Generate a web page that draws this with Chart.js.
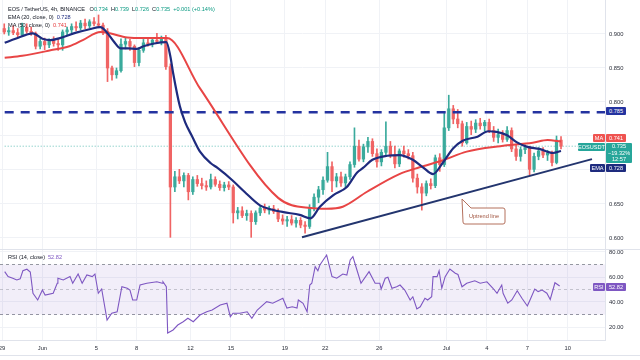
<!DOCTYPE html>
<html>
<head>
<meta charset="utf-8">
<script src="https://cdn.jsdelivr.net/npm/chart.js@4.4.0/dist/chart.umd.min.js"></script>
<style>
  body { margin: 0; background: #fff; font-family: "Liberation Sans", Arial, sans-serif; }
  #wrap { position: relative; width: 640px; height: 360px; overflow: hidden; background: #fff; }
  canvas { position: absolute; left: 0; }
  #price { top: 0; }
  #rsi { top: 250px; }
  .lg { position: absolute; font-size: 5.6px; line-height: 8px; color: #131722; white-space: nowrap; }
  .lg span { margin-left: 3px; }
  .v { color: #089981; }
  .tag { position: absolute; height: 8px; line-height: 8px; font-size: 5.6px; color: #fff; text-align: center; border-radius: 1px; white-space: nowrap; }
  .sep { position: absolute; left: 0; width: 640px; height: 1px; background: #e0e3eb; }
</style>
</head>
<body>
<div id="wrap">
  <canvas id="price" width="640" height="250"></canvas>
  <canvas id="rsi" width="640" height="106"></canvas>
  <div class="sep" style="top:249px"></div>
  <div class="sep" style="top:355px"></div>

  <!-- legend -->
  <div class="lg" style="left:8px;top:5px">EOS / TetherUS, 4h, BINANCE
    <span>O<b class="v" style="font-weight:normal">0.734</b></span><span>H<b class="v" style="font-weight:normal">0.739</b></span><span>L<b class="v" style="font-weight:normal">0.726</b></span><span>C<b class="v" style="font-weight:normal">0.735</b></span><span class="v">+0.001 (+0.14%)</span></div>
  <div class="lg" style="left:8px;top:13px">EMA (20, close, 0)<span style="color:#1e2b7e">0.728</span></div>
  <div class="lg" style="left:8px;top:21px">MA (50, close, 0)<span style="color:#e5393b">0.741</span></div>
  <div class="lg" style="left:8px;top:253px">RSI (14, close)<span style="color:#7e57c2">52.82</span></div>

  <!-- price tags -->
  <div class="tag" style="left:606px;top:107px;width:20px;background:#2433a0">0.785</div>
  <div class="tag" style="left:593px;top:134px;width:12px;background:#ef5350">MA</div>
  <div class="tag" style="left:606px;top:134px;width:20px;background:#ef5350">0.741</div>
  <div class="tag" style="left:578px;top:143px;width:27px;background:#26a69a">EOSUSDT</div>
  <div class="tag" style="left:606px;top:143px;width:26px;height:20px;line-height:6.7px;background:#26a69a">0.735<br>−19.32%<br>12:57</div>
  <div class="tag" style="left:590px;top:164px;width:15px;background:#1e2b7e">EMA</div>
  <div class="tag" style="left:606px;top:164px;width:20px;background:#1e2b7e">0.728</div>
  <div class="tag" style="left:593px;top:283px;width:12px;background:#7e57c2">RSI</div>
  <div class="tag" style="left:606px;top:283px;width:20px;background:#7e57c2">52.82</div>

  <!-- callout -->
  <svg style="position:absolute;left:0;top:0" width="640" height="360">
    <path d="M462 199 L471 208 L503 208 Q505 208 505 210 L505 222 Q505 224 503 224 L465 224 Q463 224 463 222 Z" fill="#fff" stroke="#b4705d" stroke-width="1"/>
  </svg>
  <div class="lg" style="left:463px;top:212px;width:42px;text-align:center;color:#a0533e">Uptrend line</div>
</div>

<script>
// 8h candles, index 0 = May 29 00:00
const opens = [.908,.903,.905,.902,.899,.910,.904,.901,.882,.889, .884,.890,.886,.884,.903,.906,.911,.909,.916,.912,
  .918,.915,.913,.904,.850,.840,.846,.885,.889,.882, .858,.876,.887,.885,.891,.889,.892,.852,.675,.690,
  .684,.692,.668,.686,.680,.677,.675,.686,.679,.674, .678,.675,.637,.640,.633,.636,.624,.637,.644,.641,
  .643,.639,.628,.625,.627,.622,.626,.619,.617,.645, .660,.671,.685,.705,.684,.690,.681,.690,.708,.735,
  .716,.734,.742,.724,.712,.726,.735,.722,.709,.728, .724,.721,.688,.675,.666,.680,.677,.718,.708,.762,
  .790,.775,.768,.740,.764,.760,.769,.765,.770,.758, .748,.752,.745,.758,.731,.720,.730,.733,.701,.720,
  .728,.722,.725,.711,.744];
const highs = [.915,.910,.912,.908,.916,.915,.910,.903,.893,.894, .893,.896,.892,.906,.910,.915,.918,.920,.922,.921,
  .924,.928,.916,.908,.853,.850,.893,.895,.892,.884, .880,.892,.893,.895,.901,.897,.898,.856,.698,.701,
  .696,.695,.690,.692,.688,.684,.694,.690,.684,.682, .683,.678,.645,.646,.641,.640,.640,.648,.650,.647,
  .648,.643,.634,.632,.633,.630,.630,.624,.649,.665, .676,.690,.726,.712,.695,.697,.694,.712,.762,.744,
  .738,.748,.746,.731,.730,.771,.742,.735,.731,.735, .730,.726,.694,.680,.684,.687,.722,.724,.784,.810,
  .795,.789,.772,.770,.772,.774,.776,.773,.775,.764, .760,.758,.764,.762,.738,.734,.737,.735,.725,.733,
  .733,.729,.728,.750,.749];
const lows = [.900,.898,.899,.896,.897,.901,.898,.878,.878,.877, .880,.882,.876,.876,.898,.902,.905,.906,.908,.909,
  .912,.910,.899,.830,.832,.835,.844,.878,.876,.852, .853,.873,.882,.881,.886,.884,.848,.601,.668,.680,
  .675,.656,.664,.676,.672,.670,.672,.676,.670,.669, .671,.622,.628,.630,.626,.601,.620,.633,.637,.635,
  .636,.624,.620,.617,.619,.616,.615,.607,.614,.640, .652,.664,.682,.668,.675,.676,.675,.686,.704,.713,
  .712,.726,.720,.704,.706,.720,.718,.703,.705,.719, .716,.682,.666,.641,.662,.672,.674,.698,.705,.758,
  .768,.762,.735,.738,.752,.755,.760,.757,.755,.742, .740,.741,.742,.727,.714,.713,.724,.693,.697,.715,
  .718,.714,.706,.709,.731];
const closes = [.903,.905,.902,.899,.910,.904,.901,.882,.889,.884, .890,.886,.884,.903,.906,.911,.909,.916,.912,.918,
  .915,.913,.904,.850,.840,.846,.885,.889,.882,.858, .876,.887,.885,.891,.889,.892,.852,.675,.690,.684,
  .692,.668,.686,.680,.677,.675,.686,.679,.674,.678, .675,.637,.640,.633,.636,.624,.637,.644,.641,.643,
  .639,.628,.625,.627,.622,.626,.619,.617,.645,.660, .671,.685,.705,.684,.690,.681,.690,.708,.735,.716,
  .734,.742,.724,.712,.726,.735,.722,.709,.728,.724, .721,.688,.675,.666,.680,.677,.718,.708,.762,.790,
  .775,.768,.740,.764,.760,.769,.765,.770,.758,.748, .752,.745,.758,.731,.720,.730,.733,.701,.720,.728,
  .722,.725,.711,.744,.735];

// indicator lines (x in days since May 29)
const emaDays = [0.2,1.0,2.3,3.0,3.6,4.3,5.5,6.5,7.3,7.8, 8.3,8.8,9.4,10.0,10.5,11.3,12.2,12.5,12.7,13.2,
  13.6,14.1,14.7,15.5,16.0,17.1,18.0,19.15,20.0,20.9, 22.1,22.9,23.6,24.6,25.6,26.35,26.8,27.5,28.6,29.5,
  30.5,31.25,32.0,32.7,33.5,34.2,35.3,36.1,36.7,37.5, 38.2,39.0,39.9,40.9,41.5];
const emaVals = [.887,.893,.901,.893,.891,.894,.902,.907,.910,.902, .889,.879,.879,.878,.882,.886,.888,.867,.843,.794,
  .770,.750,.727,.710,.703,.685,.668,.648,.642,.638, .634,.629,.646,.663,.675,.696,.703,.715,.721,.722,
  .715,.704,.694,.710,.732,.743,.749,.757,.756,.751, .741,.734,.731,.725,.728];
const maDays = [0.2,1.5,3.6,5.0,6.0,7.3,8.0,9.3,10.5,12.25,14.7,20.5,22.9,24.1,25.3,27.1,29.5,31.0,32.7,34.5,37.0,39.4,40.5,41.5];
const maVals = [.865,.868,.876,.882,.891,.903,.901,.895,.894,.894,.820,.659,.644,.643,.646,.668,.694,.704,.714,.727,.735,.740,.744,.742];

const resistance = 0.785;
const lastPrice = 0.735;
const trendDays = [22.27, 43.8];
const trendVals = [0.601, 0.716];

const rsiDays = [0.2,0.45,0.8,1.1,1.35,1.55,1.85,2.1,2.3,2.65, 3.0,3.2,3.8,4.1,4.15,4.55,5.05,5.25,5.65,5.95,
  6.3,6.7,6.9,7.15,7.4,7.8,8.15,8.55,8.9,9.3, 9.5,9.7,10.0,10.25,10.75,11.5,11.9,11.95,12.2,12.3,
  12.7,13.05,13.45,13.8,14.2,14.7,15.2,15.6,16.2,16.7, 16.95,17.15,17.65,18.2,18.55,18.95,19.65,20.1,20.85,21.15,
  21.55,21.9,22.0,22.35,22.65,22.85,23.0,23.25,23.45,23.6, 24.1,24.5,24.85,25.3,25.6,25.85,26.05,26.35,26.65,27.25,
  27.7,28.05,28.15,28.45,28.65,28.95,29.3,29.55,29.9,30.3, 30.5,30.8,31.05,31.4,31.6,31.9,32.0,32.3,32.45,32.65,
  32.9,33.25,33.65,33.85,34.15,34.5,35.1,35.5,36.0,36.45, 36.75,37.1,37.2,37.55,37.85,38.25,38.6,39.0,39.2,39.55,
  39.8,40.1,40.45,40.7,41.05,41.4];
const rsiVals = [64.3,60.3,59,57.6,58.5,65,66.2,64,47,41.6, 49.6,45.6,47,55,59,57.6,60.3,55,62.4,55,
  61.6,60.3,62.4,47,50.4,25.6,31,32.2,52.2,51, 49.6,41.6,41.6,53.6,55,56.2,55,56.2,52.2,15.2,
  17.6,21.6,24.2,27,24.2,29.6,32.2,33.6,37.6,39, 28.2,31,31,32.2,27,33.6,40.3,39,43,35.2,
  36.2,35.2,41.6,39,32.2,53.6,55,68.3,65,69.6, 77.6,60.3,59,62.4,61.6,73.6,76.3,65.6,55,64.3,
  55,55,50.4,59,59.8,51,52.2,53.6,49.6,41.6, 44.2,34.4,36.2,43,41.6,44.2,60.3,60.3,65,51,
  60.3,66.4,63,62,52.2,55,57,55,56.2,51, 47,53.6,47,39,41.6,49,43,36.8,41.6,50.4,
  48.3,49.6,47,42,55.4,52.8];

const tickDays = [0, 3, 7, 10, 14, 17, 21, 24, 28, 33, 36, 39, 42];
const tickLabels = ['29', 'Jun', '5', '8', '12', '15', '19', '22', '26', 'Jul', '4', '7', '10'];
const priceTicks = [0.6, 0.65, 0.7, 0.75, 0.8, 0.85, 0.9];
const rsiTicks = [20, 40, 60, 80];

const X_MIN = -0.1485, X_MAX = 44.766;
const UP = '#3aaa9c', DOWN = '#f06464';
const GRID = '#f0f2f6';

Chart.defaults.font.family = '"Liberation Sans", Arial, sans-serif';
Chart.defaults.font.size = 5.8;
Chart.defaults.color = '#2a2e39';

const pts = (xs, ys) => xs.map((x, i) => ({ x: x, y: ys[i] }));
const candleX = i => i / 3 + 1 / 6;
const candleColors = closes.map((c, i) => c >= opens[i] ? UP : DOWN);

function xScale(showLabels) {
  return {
    type: 'linear', min: X_MIN, max: X_MAX, offset: false,
    afterBuildTicks: s => { s.ticks = tickDays.map(v => ({ value: v })); },
    afterFit: s => { s.paddingLeft = 0; s.paddingRight = 0; s.height = showLabels ? 16 : 0; },
    grid: { color: GRID, drawTicks: false, offset: false },
    border: { display: showLabels, color: '#e0e3eb' },
    ticks: {
      display: showLabels, autoSkip: false, maxRotation: 0, padding: 5,
      callback: (v, i) => tickLabels[i]
    }
  };
}

new Chart(document.getElementById('price'), {
  type: 'bar',
  data: {
    datasets: [
      { type: 'line', data: pts(emaDays, emaVals), borderColor: '#1e2b7e', borderWidth: 2.2,
        pointRadius: 0, cubicInterpolationMode: 'monotone', order: 1 },
      { type: 'line', data: pts(maDays, maVals), borderColor: '#e84545', borderWidth: 2,
        pointRadius: 0, cubicInterpolationMode: 'monotone', order: 2 },
      { type: 'line', data: pts([0.2, X_MAX], [resistance, resistance]), borderColor: '#2433a0',
        borderWidth: 2.5, borderDash: [9, 7], pointRadius: 0, order: 3 },
      { type: 'line', data: pts(trendDays, trendVals), borderColor: '#23356e', borderWidth: 2,
        pointRadius: 0, order: 4 },
      { type: 'bar', data: closes.map((c, i) => ({ x: candleX(i), y: [opens[i], c] })),
        backgroundColor: candleColors, barThickness: 2.6, barPercentage: 1, minBarLength: 1,
        grouped: false, order: 5 },
      { type: 'bar', data: closes.map((c, i) => ({ x: candleX(i), y: [lows[i], highs[i]] })),
        backgroundColor: candleColors, barThickness: 1, barPercentage: 1,
        grouped: false, order: 6 },
      { type: 'line', data: pts([0.2, X_MAX], [lastPrice, lastPrice]), borderColor: 'rgba(38,166,154,0.7)',
        borderWidth: 1, borderDash: [1, 2], pointRadius: 0, order: 7 }
    ]
  },
  options: {
    responsive: false, animation: false, events: [],
    layout: { padding: 0 },
    plugins: { legend: { display: false }, tooltip: { enabled: false } },
    scales: {
      x: xScale(false),
      y: {
        type: 'linear', position: 'right', min: 0.58235, max: 0.95,
        afterBuildTicks: s => { s.ticks = priceTicks.map(v => ({ value: v })); },
        afterFit: s => { s.width = 35; s.paddingTop = 0; s.paddingBottom = 0; },
        grid: { color: GRID, drawTicks: false },
        border: { color: '#e0e3eb' },
        ticks: { padding: 4, callback: v => v.toFixed(3) }
      }
    }
  }
});

new Chart(document.getElementById('rsi'), {
  type: 'line',
  data: {
    datasets: [
      { data: pts(rsiDays, rsiVals), borderColor: '#7e57c2', borderWidth: 1.1, pointRadius: 0, order: 1 },
      { data: pts([X_MIN, X_MAX], [70, 70]), borderColor: '#9598a1', borderWidth: 1, borderDash: [3, 3],
        pointRadius: 0, fill: '+1', backgroundColor: 'rgba(126,87,194,0.1)', order: 3 },
      { data: pts([X_MIN, X_MAX], [30, 30]), borderColor: '#9598a1', borderWidth: 1, borderDash: [3, 3],
        pointRadius: 0, order: 4 },
      { data: pts([X_MIN, X_MAX], [50, 50]), borderColor: 'rgba(149,152,161,0.5)', borderWidth: 1, borderDash: [3, 3],
        pointRadius: 0, order: 2 }
    ]
  },
  options: {
    responsive: false, animation: false, events: [],
    layout: { padding: 0 },
    plugins: { legend: { display: false }, tooltip: { enabled: false } },
    scales: {
      x: xScale(true),
      y: {
        type: 'linear', position: 'right', min: 9.6, max: 81.6,
        afterBuildTicks: s => { s.ticks = rsiTicks.map(v => ({ value: v })); },
        afterFit: s => { s.width = 35; s.paddingTop = 0; s.paddingBottom = 0; },
        grid: { color: GRID, drawTicks: false },
        border: { color: '#e0e3eb' },
        ticks: { padding: 4, callback: v => v.toFixed(2) }
      }
    }
  }
});
</script>
</body>
</html>
